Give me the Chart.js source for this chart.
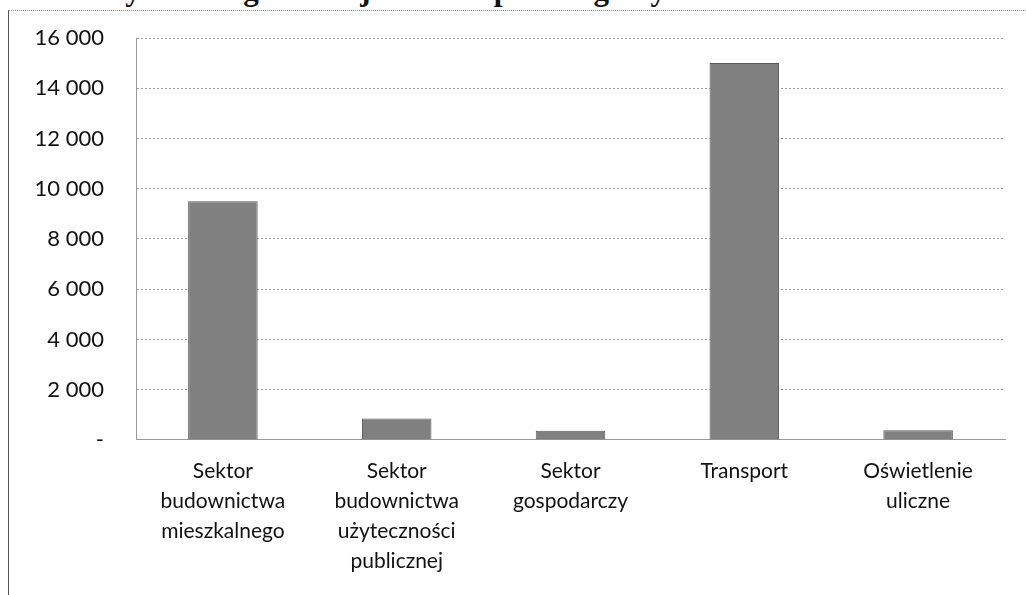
<!DOCTYPE html>
<html><head><meta charset="utf-8">
<script src="https://cdn.jsdelivr.net/npm/chart.js@4"></script>
<style>
html,body{margin:0;padding:0;background:#fff;overflow:hidden;}
#wrap{position:relative;width:1026px;height:595px;overflow:hidden;}
#title{position:absolute;left:-95px;top:-28px;line-height:1;white-space:nowrap;font:bold 31px "Liberation Serif";color:#111;}
#frame{position:absolute;left:8px;top:10px;right:-2px;bottom:-2px;border-left:1px solid #555;border-top:1px dotted #888;}
canvas{position:absolute;left:0;top:0;}
</style></head>
<body><div id="wrap"><div id="title">Rysunek 37. Zużycie energii i emisja CO2 w poszczególnych sektorach</div><div id="frame"></div><canvas id="c" width="1026" height="595"></canvas></div>
<script>
const categories = [
  ["Sektor", "budownictwa", "mieszkalnego"],
  ["Sektor", "budownictwa", "użyteczności", "publicznej"],
  ["Sektor", "gospodarczy"],
  "Transport",
  ["Oświetlenie", "uliczne"]
];
const values = [9500, 850, 360, 15000, 380];
const yTickValues = [0, 2000, 4000, 6000, 8000, 10000, 12000, 14000, 16000];
const yTickLabels = ["-", "2 000", "4 000", "6 000", "8 000", "10 000", "12 000", "14 000", "16 000"];

const gridColor = '#9a9a9a';
new Chart(document.getElementById('c'), {
  type: 'bar',
  data: {
    labels: categories,
    datasets: [{
      data: values,
      backgroundColor: '#808080',
      borderColor: '#5a5a5a',
      borderWidth: 1,
      categoryPercentage: 1,
      barPercentage: 0.4
    }]
  },
  options: {
    responsive: false,
    devicePixelRatio: 1,
    animation: false,
    layout: { padding: { left: 0, right: 21, top: 38, bottom: 3 } },
    plugins: { legend: { display: false }, tooltip: { enabled: false } },
    scales: {
      x: {
        grid: { display: false, drawTicks: false },
        border: { display: true, color: gridColor, dash: [2, 2] },
        ticks: {
          color: '#111', padding: 16, maxRotation: 0, autoSkip: false,
          font: { family: 'Lato', size: 21, lineHeight: 1.43 }
        }
      },
      y: {
        min: yTickValues[0],
        max: yTickValues[yTickValues.length - 1],
        afterBuildTicks: s => { s.ticks = yTickValues.map(v => ({ value: v })); },
        afterFit: s => { s.width = 136; s.paddingTop = 0; s.paddingBottom = 0; },
        grid: { color: gridColor, drawTicks: false },
        border: { display: true, color: gridColor, dash: [2, 2] },
        ticks: {
          color: '#111', padding: 32,
          font: { family: 'Lato', size: 22 },
          callback: (v) => yTickLabels[yTickValues.indexOf(v)]
        }
      }
    }
  }
});
</script>
</body></html>
